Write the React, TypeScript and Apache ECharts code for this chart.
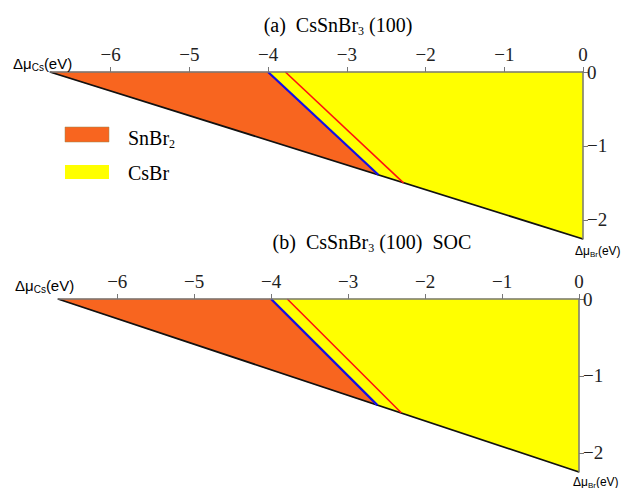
import React, { useEffect, useRef } from "react";
import * as echarts from "echarts";

// ---- data ----
const xTicks = [-6, -5, -4, -3, -2, -1, 0];
const yTicks = [-2, -1, 0];

// panel (a)
const csMinA = -6.77;
const brMinA = -2.26;
const snbr2A = [[-6.77, 0], [-4.0, 0], [-2.6, -1.39]];
const csbrA = [[-4.0, 0], [0, 0], [0, -2.26], [-2.6, -1.39]];
const hypA = [[-6.77, 0], [0, -2.26]];
const blueA = [[-4.0, 0], [-2.6, -1.39]];
const redA = [[-3.78, 0], [-2.28, -1.5]];
const redEdgeA = [[-4.015, 0], [-2.615, -1.385]];

// panel (b) SOC
const csMinB = -6.77;
const brMinB = -2.25;
const snbr2B = [[-6.77, 0], [-4.0, 0], [-2.62, -1.38]];
const csbrB = [[-4.0, 0], [0, 0], [0, -2.25], [-2.62, -1.38]];
const hypB = [[-6.77, 0], [0, -2.25]];
const blueB = [[-4.0, 0], [-2.62, -1.38]];
const redB = [[-3.79, 0], [-2.31, -1.48]];
const redEdgeB = [[-4.02, 0], [-2.64, -1.375]];

const ORANGE = "#F8651F";
const YELLOW = "#FFFF00";
const BLUE = "#1010E8";
const RED = "#FF1010";
const SERIF = "'Liberation Serif', 'Times New Roman', serif";
const SANS = "'Liberation Sans', Arial, sans-serif";

const fmt = (v: number) => (v === 0 ? "0" : "\u2212" + Math.abs(v));

function xAxis(gridIndex: number, min: number) {
  return {
    gridIndex,
    type: "value",
    position: "top",
    min,
    max: 0,
    z: 10,
    axisLine: { show: true, lineStyle: { color: "#777", width: 1.5 } },
    axisTick: { show: true, customValues: xTicks, length: 5, lineStyle: { color: "#777" } },
    axisLabel: {
      customValues: xTicks,
      formatter: fmt,
      fontFamily: SERIF,
      fontSize: 19,
      color: "#222",
      margin: 8,
    },
    splitLine: { show: false },
  };
}

function yAxis(gridIndex: number, min: number) {
  return {
    gridIndex,
    type: "value",
    position: "right",
    min,
    max: 0,
    z: 10,
    axisLine: { show: true, lineStyle: { color: "#777", width: 1.5 } },
    axisTick: { show: true, customValues: yTicks, length: 5, lineStyle: { color: "#777" } },
    axisLabel: {
      customValues: yTicks,
      formatter: fmt,
      fontFamily: SERIF,
      fontSize: 19,
      color: "#222",
      margin: 4,
    },
    splitLine: { show: false },
  };
}

function poly(idx: number, pts: number[][], fill: string) {
  return {
    type: "custom",
    xAxisIndex: idx,
    yAxisIndex: idx,
    data: [0],
    z: 1,
    renderItem: (_p: any, api: any) => ({
      type: "polygon",
      shape: { points: pts.map((p) => api.coord(p)) },
      style: { fill, stroke: fill, lineWidth: 0.5 },
    }),
  };
}

function line(idx: number, pts: number[][], color: string, width: number, z = 3) {
  return {
    type: "line",
    xAxisIndex: idx,
    yAxisIndex: idx,
    data: pts,
    showSymbol: false,
    symbol: "none",
    z,
    lineStyle: { color, width },
  };
}

function rtext(x: number, y: number, text: string, rich: any, align = "left") {
  return {
    type: "text",
    x,
    y,
    z: 20,
    style: { text, rich, textAlign: align, textVerticalAlign: "middle" },
  };
}

const titleRich = {
  n: { fontFamily: SERIF, fontSize: 20, color: "#222", lineHeight: 24 },
  s: { fontFamily: SERIF, fontSize: 12, color: "#222", verticalAlign: "bottom", padding: [8, 0, 0, 0] },
};
const muRich = {
  a: { fontFamily: SANS, fontSize: 15, color: "#222", lineHeight: 18 },
  b: { fontFamily: SANS, fontSize: 10, color: "#222", verticalAlign: "bottom", padding: [6, 0, 0, 0] },
};
const muSmallRich = {
  a: { fontFamily: SANS, fontSize: 12, color: "#222", lineHeight: 14 },
  b: { fontFamily: SANS, fontSize: 8, color: "#222", verticalAlign: "bottom", padding: [5, 0, 0, 0] },
};
const legRich = {
  n: { fontFamily: SERIF, fontSize: 20, color: "#222", lineHeight: 24 },
  s: { fontFamily: SERIF, fontSize: 12, color: "#222", verticalAlign: "bottom", padding: [8, 0, 0, 0] },
};

export default function App() {
  const ref = useRef<HTMLDivElement>(null);
  useEffect(() => {
    if (!ref.current) return;
    const chart = echarts.init(ref.current, null, { renderer: "svg" });
    chart.setOption({
      animation: false,
      backgroundColor: "#fff",
      grid: [
        { left: 50, right: 38, top: 72, height: 167 },
        { left: 58, right: 42, top: 299, height: 173 },
      ],
      xAxis: [xAxis(0, csMinA), xAxis(1, csMinB)],
      yAxis: [yAxis(0, brMinA), yAxis(1, brMinB)],
      series: [
        poly(0, snbr2A, ORANGE),
        poly(0, csbrA, YELLOW),
        line(0, hypA, "#111", 1.8),
        line(0, redEdgeA, "#E8402A", 1, 3),
        line(0, blueA, BLUE, 2.2, 4),
        line(0, redA, RED, 1.6),
        poly(1, snbr2B, ORANGE),
        poly(1, csbrB, YELLOW),
        line(1, hypB, "#111", 1.8),
        line(1, redEdgeB, "#E8402A", 1, 3),
        line(1, blueB, BLUE, 2.2, 4),
        line(1, redB, RED, 1.6),
      ],
      graphic: [
        rtext(338, 25, "{n|(a)  CsSnBr}{s|3}{n| (100)}", titleRich, "center"),
        rtext(13, 63, "{a|\u0394\u03bc}{b|Cs}{a|(eV)}", muRich),
        rtext(575, 251, "{a|\u0394\u03bc}{b|Br}{a|(eV)}", muSmallRich),
        {
          type: "rect",
          shape: { x: 65, y: 127, width: 44, height: 15 },
          style: { fill: ORANGE, stroke: "#9a8a50", lineWidth: 0.5 },
          z: 20,
        },
        {
          type: "rect",
          shape: { x: 65, y: 165, width: 44, height: 14 },
          style: { fill: YELLOW },
          z: 20,
        },
        rtext(128, 138, "{n|SnBr}{s|2}", legRich),
        rtext(128, 173, "{n|CsBr}", legRich),
        rtext(372, 242, "{n|(b)  CsSnBr}{s|3}{n| (100)  SOC}", titleRich, "center"),
        rtext(15, 285, "{a|\u0394\u03bc}{b|Cs}{a|(eV)}", muRich),
        rtext(573, 482, "{a|\u0394\u03bc}{b|Br}{a|(eV)}", muSmallRich),
      ],
    });
    return () => chart.dispose();
  }, []);
  return <div ref={ref} style={{ width: 621, height: 488, position: "absolute", left: 0, top: 0 }} />;
}
